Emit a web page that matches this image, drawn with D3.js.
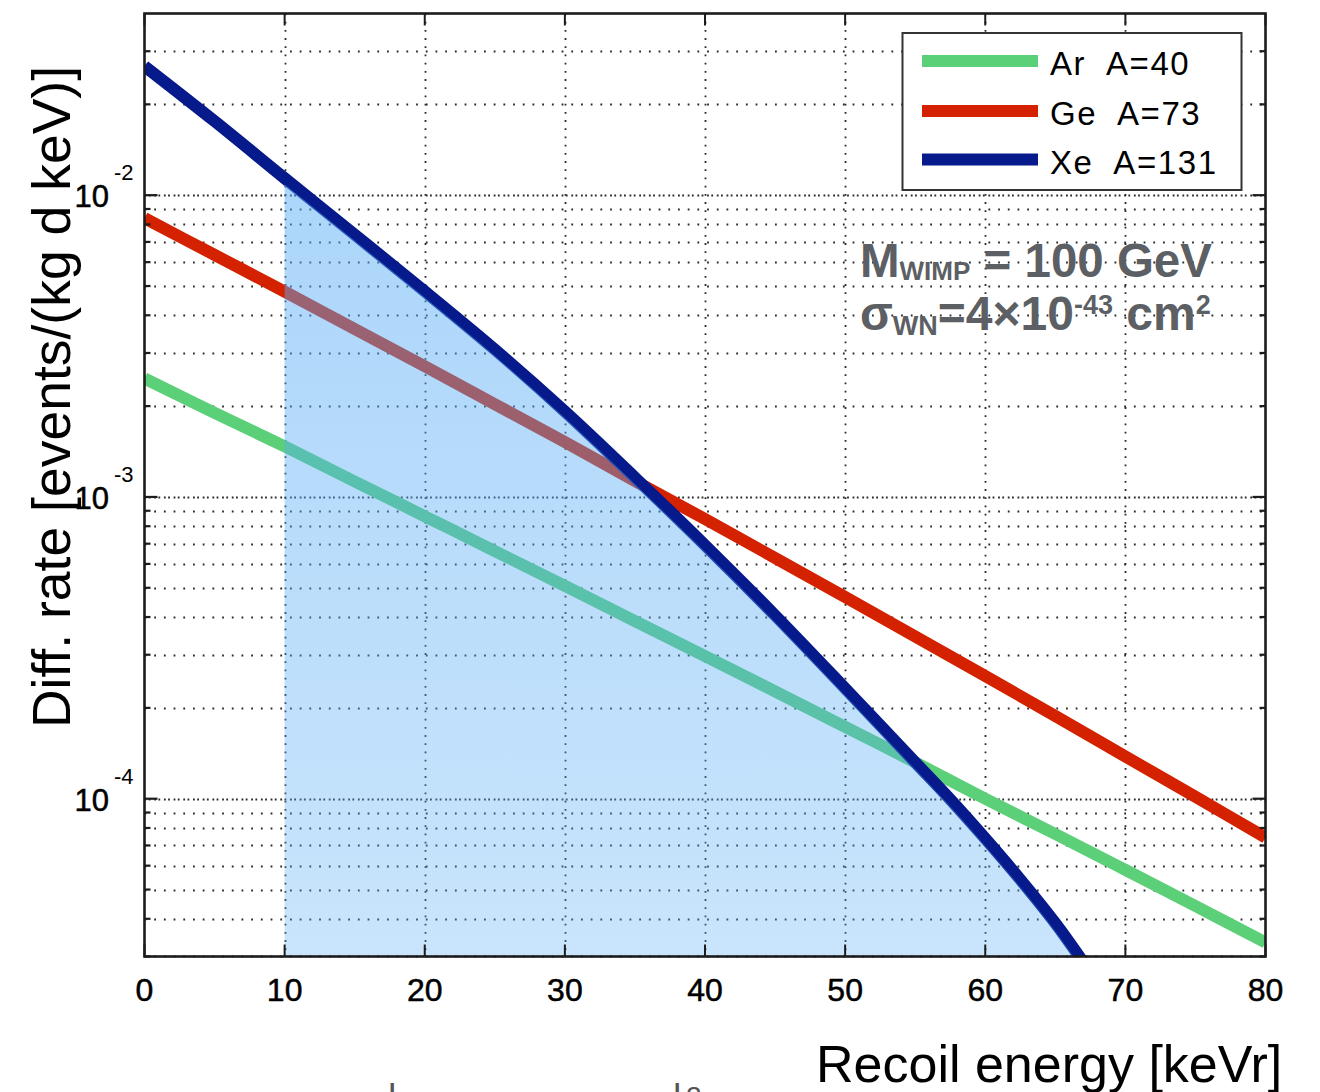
<!DOCTYPE html>
<html>
<head>
<meta charset="utf-8">
<script src="https://cdn.jsdelivr.net/npm/d3@7"></script>
<style>
  html, body { margin: 0; padding: 0; background: #fff; }
  svg { display: block; }
  text { font-family: "Liberation Sans", Arial, Helvetica, sans-serif; }
</style>
</head>
<body>
<svg id="chart" width="1320" height="1092"></svg>
<script>
// Differential WIMP recoil rate for three target nuclei
const energy = [0, 5, 10, 15, 20, 25, 30, 35, 40, 45, 50, 55, 60, 65, 70, 75, 80];
const rateAr = [2.47e-3, 1.90e-3, 1.47e-3, 1.125e-3, 8.63e-4, 6.62e-4, 5.07e-4, 3.88e-4, 2.97e-4,
                2.27e-4, 1.73e-4, 1.32e-4, 1.00e-4, 7.64e-5, 5.81e-5, 4.41e-5, 3.34e-5];
const rateGe = [8.39e-3, 6.34e-3, 4.79e-3, 3.60e-3, 2.71e-3, 2.03e-3, 1.52e-3, 1.13e-3, 8.45e-4,
                6.28e-4, 4.66e-4, 3.45e-4, 2.55e-4, 1.88e-4, 1.38e-4, 1.015e-4, 7.44e-5];
const energyXe = [0, 5, 10, 15, 20, 25, 30, 35, 40, 45, 50, 55, 57.5, 60, 62.5, 65, 67];
const rateXe = [2.676e-2, 1.759e-2, 1.138e-2, 7.40e-3, 4.80e-3, 3.08e-3, 1.92e-3, 1.16e-3, 6.92e-4,
                4.05e-4, 2.32e-4, 1.32e-4, 9.95e-5, 7.38e-5, 5.40e-5, 3.87e-5, 2.87e-5];

const seriesNames = ["Ar  A=40", "Ge  A=73", "Xe  A=131"];
const seriesColors = ["#5ccf79", "#d42200", "#061a8c"];
const thresholdEnergy = 10;

const xTickValues = [0, 10, 20, 30, 40, 50, 60, 70, 80];
const yDecades = [1e-4, 1e-3, 1e-2];
const yDecadeExponents = ["-4", "-3", "-2"];
const yMinorMultipliers = [2, 3, 4, 5, 6, 7, 8, 9];

const xLabel = "Recoil energy [keVr]";
const yLabel = "Diff. rate [events/(kg d keV)]";

// ---- layout ----
const plot = { left: 144.5, right: 1265.5, top: 13.5, bottom: 956.5 };
const svg = d3.select("#chart");

const x = d3.scaleLinear().domain([0, 80]).range([plot.left, plot.right]);
const y = d3.scaleLog().domain([3e-5, 0.04]).range([plot.bottom, plot.top]);

svg.append("defs").append("clipPath").attr("id", "plotClip")
  .append("rect")
  .attr("x", plot.left).attr("y", plot.top)
  .attr("width", plot.right - plot.left).attr("height", plot.bottom - plot.top);

const grad = svg.select("defs").append("linearGradient")
  .attr("id", "shade").attr("gradientUnits", "userSpaceOnUse")
  .attr("x1", 0).attr("y1", y(rateXe[2])).attr("x2", 0).attr("y2", plot.bottom);
grad.append("stop").attr("offset", 0).attr("stop-color", "#57acf5").attr("stop-opacity", 0.5);
grad.append("stop").attr("offset", 1).attr("stop-color", "#57acf5").attr("stop-opacity", 0.32);

// ---- grid ----
const grid = svg.append("g");
const minorValues = [];
[1e-5, 1e-4, 1e-3, 1e-2].forEach(d => yMinorMultipliers.forEach(m => {
  const v = d * m;
  if (v > 3e-5 && v < 0.04) minorValues.push(v);
}));

grid.selectAll(".ymin").data(minorValues).join("line")
  .attr("x1", plot.left).attr("x2", plot.right)
  .attr("y1", d => Math.round(y(d)) + 0.5).attr("y2", d => Math.round(y(d)) + 0.5)
  .attr("stroke", "#2a2a2a").attr("stroke-width", 1.8)
  .attr("stroke-dasharray", "1.8,7.9");

grid.selectAll(".ymaj").data(yDecades).join("line")
  .attr("x1", plot.left).attr("x2", plot.right)
  .attr("y1", d => Math.round(y(d)) + 0.5).attr("y2", d => Math.round(y(d)) + 0.5)
  .attr("stroke", "#2a2a2a").attr("stroke-width", 1.8)
  .attr("stroke-dasharray", "1.8,2.4,1.8,3.7");

grid.selectAll(".xg").data(xTickValues.slice(1, -1)).join("line")
  .attr("x1", d => Math.round(x(d)) + 0.5).attr("x2", d => Math.round(x(d)) + 0.5)
  .attr("y1", plot.top).attr("y2", plot.bottom)
  .attr("stroke", "#2a2a2a").attr("stroke-width", 1.8)
  .attr("stroke-dasharray", "1.8,6.4");

// ---- curves ----
const lines = svg.append("g").attr("clip-path", "url(#plotClip)");
const curve = d3.curveCatmullRom.alpha(0.5);
const lineGen = d3.line().curve(curve).x(d => x(d[0])).y(d => y(d[1]));

const arData = energy.map((e, i) => [e, rateAr[i]]);
const geData = energy.map((e, i) => [e, rateGe[i]]);
const xeData = energyXe.map((e, i) => [e, rateXe[i]]);

lines.append("path").datum(arData).attr("d", lineGen)
  .attr("fill", "none").attr("stroke", seriesColors[0]).attr("stroke-width", 12);
lines.append("path").datum(geData).attr("d", lineGen)
  .attr("fill", "none").attr("stroke", seriesColors[1]).attr("stroke-width", 12);
lines.append("path").datum(xeData).attr("d", lineGen)
  .attr("fill", "none").attr("stroke", seriesColors[2]).attr("stroke-width", 12);

// shaded Xe rate above threshold
const areaGen = d3.area().curve(curve)
  .x(d => x(d[0])).y0(plot.bottom + 20).y1(d => y(d[1]));
lines.append("path").datum(xeData.filter(d => d[0] >= thresholdEnergy))
  .attr("d", areaGen).attr("fill", "url(#shade)");

lines.append("path").datum(xeData).attr("d", lineGen)
  .attr("fill", "none").attr("stroke", seriesColors[2]).attr("stroke-width", 9.5);

// ---- frame and ticks ----
const axes = svg.append("g").attr("stroke", "#1c1c1c");
axes.append("rect")
  .attr("x", plot.left).attr("y", plot.top)
  .attr("width", plot.right - plot.left).attr("height", plot.bottom - plot.top)
  .attr("fill", "none").attr("stroke-width", 2.6);

const yTicks = yDecades.map(v => ({ v, len: 13 })).concat(minorValues.map(v => ({ v, len: 6 })));
axes.selectAll(".lt").data(yTicks).join("line")
  .attr("x1", plot.left).attr("x2", d => plot.left + d.len)
  .attr("y1", d => y(d.v)).attr("y2", d => y(d.v)).attr("stroke-width", 2.2);
axes.selectAll(".rt").data(yTicks).join("line")
  .attr("x1", plot.right).attr("x2", d => plot.right - d.len)
  .attr("y1", d => y(d.v)).attr("y2", d => y(d.v)).attr("stroke-width", 2.2);
axes.selectAll(".bt").data(xTickValues).join("line")
  .attr("x1", d => x(d)).attr("x2", d => x(d))
  .attr("y1", plot.bottom).attr("y2", plot.bottom - 12).attr("stroke-width", 2);
axes.selectAll(".tt").data(xTickValues).join("line")
  .attr("x1", d => x(d)).attr("x2", d => x(d))
  .attr("y1", plot.top).attr("y2", plot.top + 12).attr("stroke-width", 2);

// ---- tick labels ----
svg.append("g").selectAll("text").data(xTickValues).join("text")
  .attr("x", d => x(d)).attr("y", 1001)
  .attr("text-anchor", "middle").attr("font-size", 32).attr("fill", "#000")
  .attr("stroke", "#000").attr("stroke-width", 0.5)
  .text(d => d);

const yl = svg.append("g").selectAll("g").data(yDecades).join("g");
yl.append("text")
  .attr("x", 109).attr("y", d => y(d) + 12)
  .attr("text-anchor", "end").attr("font-size", 31).attr("fill", "#000")
  .attr("stroke", "#000").attr("stroke-width", 0.5)
  .text("10");
yl.append("text")
  .attr("x", 114).attr("y", d => y(d) - 15)
  .attr("font-size", 22).attr("fill", "#000")
  .text((d, i) => yDecadeExponents[i]);

// ---- axis titles ----
svg.append("text")
  .attr("x", 816).attr("y", 1082)
  .attr("font-size", 52).attr("fill", "#000")
  .text(xLabel);
svg.append("text")
  .attr("transform", "translate(70,397) rotate(-90)")
  .attr("text-anchor", "middle").attr("font-size", 53.5).attr("fill", "#000")
  .text(yLabel);

// ---- legend ----
const lg = svg.append("g");
lg.append("rect").attr("x", 902.5).attr("y", 33).attr("width", 339).attr("height", 157)
  .attr("fill", "#fff").attr("stroke", "#333").attr("stroke-width", 2);
const legendRows = [61, 111, 159.5];
seriesNames.forEach((name, i) => {
  lg.append("line").attr("x1", 922).attr("x2", 1038)
    .attr("y1", legendRows[i]).attr("y2", legendRows[i])
    .attr("stroke", seriesColors[i]).attr("stroke-width", 12);
  lg.append("text").attr("x", 1050).attr("y", legendRows[i] + 14)
    .attr("font-size", 33).attr("letter-spacing", 1.6).attr("fill", "#000")
    .style("white-space", "pre")
    .text(name);
});

// ---- WIMP parameters ----
const note = svg.append("g").attr("fill", "#5c5f64").attr("font-weight", "bold");
const n1 = note.append("text").attr("x", 860).attr("y", 277).attr("font-size", 47.5);
n1.append("tspan").text("M");
n1.append("tspan").attr("font-size", 26).attr("dy", 3).text("WIMP");
n1.append("tspan").attr("dy", -3).style("white-space", "pre").text(" = 100 GeV");

const n2 = note.append("text").attr("x", 860).attr("y", 330).attr("font-size", 48);
n2.append("tspan").text("σ");
n2.append("tspan").attr("font-size", 27).attr("dy", 5).text("WN");
n2.append("tspan").attr("dy", -5).text("=4×10");
n2.append("tspan").attr("font-size", 27).attr("dy", -16).text("-43");
n2.append("tspan").attr("dy", 16).style("white-space", "pre").text(" cm");
n2.append("tspan").attr("font-size", 27).attr("dy", -16).text("2");

// ---- fragments of the next line of the page ----
const frag = svg.append("g").attr("fill", "#555").attr("font-size", 40);
frag.append("text").attr("x", 387).attr("y", 1113).text("|");
frag.append("text").attr("x", 672).attr("y", 1113).text("|");
frag.append("text").attr("x", 686).attr("y", 1106).attr("font-size", 28).text("2");
</script>
</body>
</html>
